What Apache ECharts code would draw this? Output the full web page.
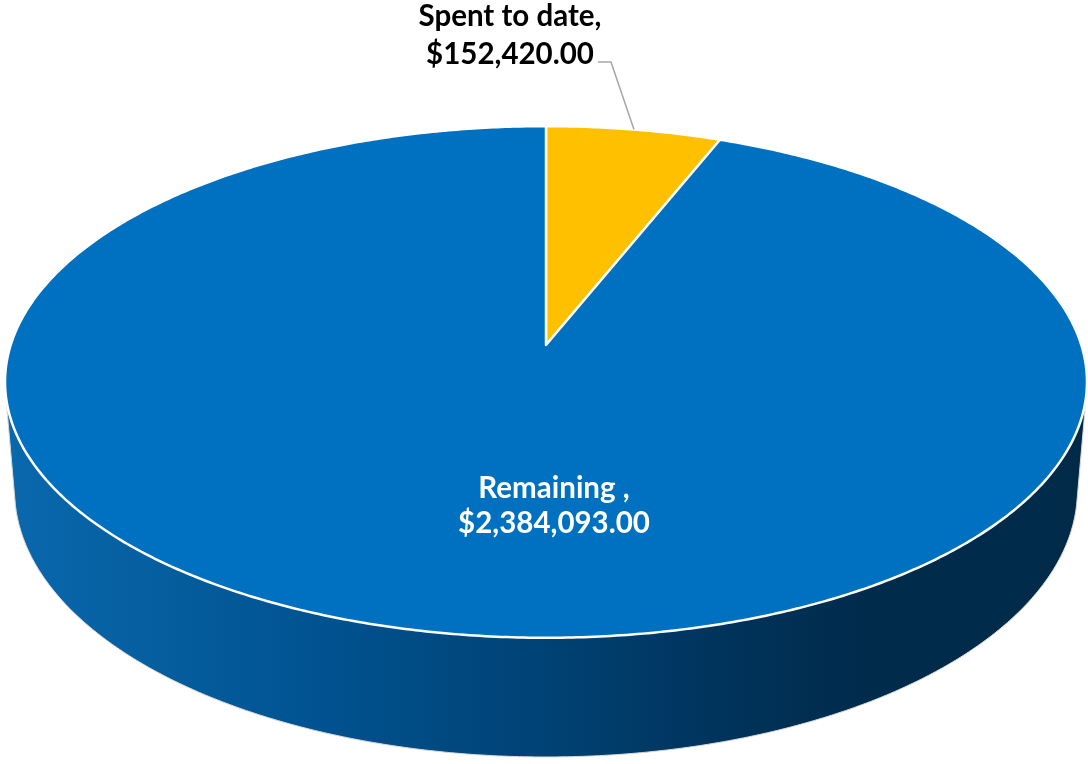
<!DOCTYPE html>
<html>
<head>
<meta charset="utf-8">
<script src="https://cdn.jsdelivr.net/npm/echarts@6/dist/echarts.min.js"></script>
<style>
  html, body { margin: 0; padding: 0; background: #ffffff; }
  #chart { width: 1088px; height: 764px; }
</style>
</head>
<body>
<div id="chart"></div>
<script>
// Budget split
const categories = ['Spent to date', 'Remaining '];
const amounts = [152420.00, 2384093.00];
const sliceColors = ['#FFC000', '#0070C0'];

// Cumulative slice angles, clockwise from 12 o'clock
const total = amounts.reduce((a, b) => a + b, 0);
const sliceAngles = [];
let running = 0;
amounts.forEach(v => {
  const a0 = running / total * Math.PI * 2;
  running += v;
  sliceAngles.push([a0, running / total * Math.PI * 2]);
});

function money(v) {
  return '$' + v.toLocaleString('en-US', { minimumFractionDigits: 2, maximumFractionDigits: 2 });
}

// Perspective camera for the tilted disc (unit radius, height "depth")
const cam = { cx: 546, cy: 345, scale: 535.3, tilt: 27.9 * Math.PI / 180, dist: 6.12, depth: 0.231 };
const sinT = Math.sin(cam.tilt), cosT = Math.cos(cam.tilt);
function project(r, phi, z) {
  const u = r * Math.sin(phi), v = r * Math.cos(phi);
  const w = 1 + (v * cosT - z * sinT) / cam.dist;
  return [cam.cx + cam.scale * u / w, cam.cy - cam.scale * (v * sinT + z * cosT) / w];
}
function arcPoints(a, b, z) {
  const n = Math.max(2, Math.ceil(Math.abs(b - a) / Math.PI * 360));
  const pts = [];
  for (let i = 0; i <= n; i++) pts.push(project(1, a + (b - a) * i / n, z));
  return pts;
}
// Visible part of the rim (between the silhouette generators)
const phiSil = Math.acos(-1 / (cam.dist * cosT));
const rimFront = [phiSil, Math.PI * 2 - phiSil];

const sideFill = {
  type: 'linear', x: 5, y: 0, x2: 1087, y2: 0, global: true,
  colorStops: [
    { offset: 0, color: '#0a68ad' },
    { offset: 0.3, color: '#00528f' },
    { offset: 0.5, color: '#004274' },
    { offset: 0.68, color: '#003259' },
    { offset: 0.8, color: '#002b4b' },
    { offset: 1, color: '#002a48' }
  ]
};

const labelLayout = [
  { x: 510, y: 35, lineHeight: 38, color: '#000000', leader: [[598, 62], [611, 62]] },
  { x: 554, y: 506, lineHeight: 35, color: '#ffffff' }
];

const chart = echarts.init(document.getElementById('chart'), null, { renderer: 'canvas' });
chart.setOption({
  backgroundColor: '#ffffff',
  animation: false,
  series: [{
    type: 'custom',
    coordinateSystem: 'none',
    data: amounts.map((v, i) => [sliceAngles[i][0], sliceAngles[i][1], v, i]),
    renderItem: function (params, api) {
      const i = params.dataIndex;
      const a0 = api.value(0), a1 = api.value(1);
      const children = [];

      // side wall
      const s0 = Math.max(a0, rimFront[0]), s1 = Math.min(a1, rimFront[1]);
      if (s1 > s0) {
        const top = arcPoints(s0, s1, 0);
        const bottom = arcPoints(s1, s0, -cam.depth);
        children.push({
          type: 'polygon', z2: 1,
          shape: { points: top.concat(bottom) },
          style: { fill: i === 1 ? sideFill : sliceColors[i], stroke: '#d9d9d9', lineWidth: 1 }
        });
      }

      // top face
      const facePts = [project(0, 0, 0)].concat(arcPoints(a0, a1, 0));
      children.push({
        type: 'polygon', z2: 5,
        shape: { points: facePts },
        style: { fill: sliceColors[i], stroke: '#ffffff', lineWidth: 2.5, lineJoin: 'round' }
      });

      // data label
      const lay = labelLayout[i];
      children.push({
        type: 'text', z2: 20, x: lay.x, y: lay.y,
        style: {
          text: categories[i] + ',\n' + money(api.value(2)),
          fill: lay.color,
          fontFamily: 'Lato',
          fontWeight: 'bold',
          fontSize: 29.5,
          lineHeight: lay.lineHeight,
          align: 'center',
          verticalAlign: 'middle'
        }
      });
      if (lay.leader) {
        const mid = (a0 + a1) / 2;
        children.push({
          type: 'polyline', z2: 15,
          shape: { points: lay.leader.concat([project(1, mid, 0)]) },
          style: { stroke: '#a6a6a6', lineWidth: 1.5, fill: null }
        });
      }
      return { type: 'group', children: children };
    }
  }]
});
</script>
</body>
</html>
